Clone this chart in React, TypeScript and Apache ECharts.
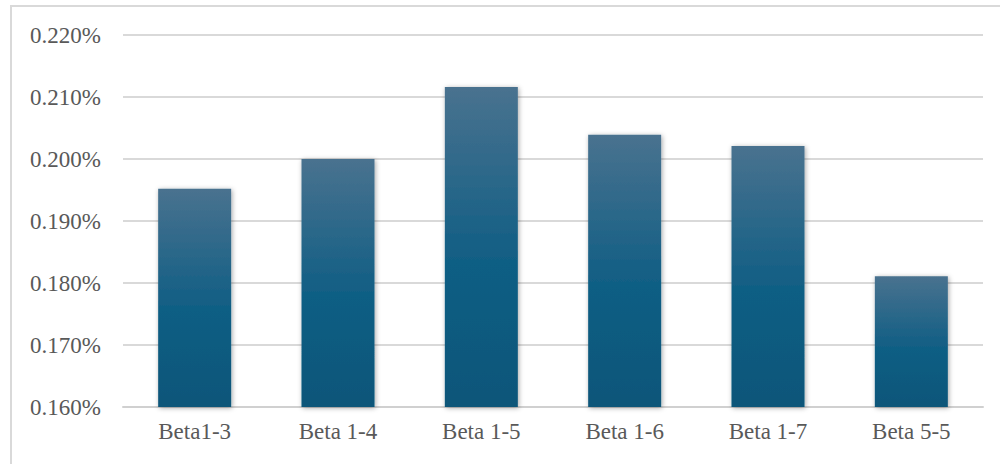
import React, { useEffect, useRef } from "react";
import * as echarts from "echarts";

const categories = ["Beta1-3", "Beta 1-4", "Beta 1-5", "Beta 1-6", "Beta 1-7", "Beta 5-5"];
const values = [0.1952, 0.2, 0.2116, 0.2039, 0.2021, 0.1811];
const yMin = 0.16;
const yMax = 0.22;
const yInterval = 0.01;

export default function App() {
  const ref = useRef<HTMLDivElement>(null);
  useEffect(() => {
    if (!ref.current) return;
    const chart = echarts.init(ref.current, undefined, { renderer: "svg" });
    chart.setOption({
      animation: false,
      backgroundColor: "#ffffff",
      graphic: [
        {
          type: "rect",
          shape: { x: 11, y: 6, width: 1000, height: 470 },
          style: { fill: "none", stroke: "#d9d9d9", lineWidth: 2 },
          silent: true,
        },
      ],
      grid: { left: 123, right: 17, top: 35, bottom: 57 },
      xAxis: {
        type: "category",
        data: categories,
        axisTick: { show: false },
        axisLine: { show: true, lineStyle: { color: "#d0d0d0", width: 2 } },
        axisLabel: {
          color: "#595959",
          fontFamily: "'Liberation Serif', 'Times New Roman', serif",
          fontSize: 23,
          margin: 13,
        },
      },
      yAxis: {
        type: "value",
        min: yMin,
        max: yMax,
        interval: yInterval,
        axisLine: { show: false },
        axisTick: { show: false },
        splitLine: { lineStyle: { color: "#d9d9d9", width: 2 } },
        axisLabel: {
          color: "#595959",
          fontFamily: "'Liberation Serif', 'Times New Roman', serif",
          fontSize: 23,
          margin: 22,
          formatter: (v: number) => v.toFixed(3) + "%",
        },
      },
      series: [
        {
          type: "bar",
          data: values,
          barWidth: 73,
          itemStyle: {
            color: new echarts.graphic.LinearGradient(0, 0, 0, 1, [
              { offset: 0, color: "#49728f" },
              { offset: 0.55, color: "#105e84" },
              { offset: 1, color: "#0a5679" },
            ]),
            shadowColor: "rgba(0,0,0,0.35)",
            shadowBlur: 5,
            shadowOffsetX: 1,
            shadowOffsetY: 1,
          },
        },
      ],
    });
    return () => chart.dispose();
  }, []);
  return (
    <div
      ref={ref}
      style={{ position: "fixed", left: 0, top: 0, width: 1000, height: 464 }}
    />
  );
}
